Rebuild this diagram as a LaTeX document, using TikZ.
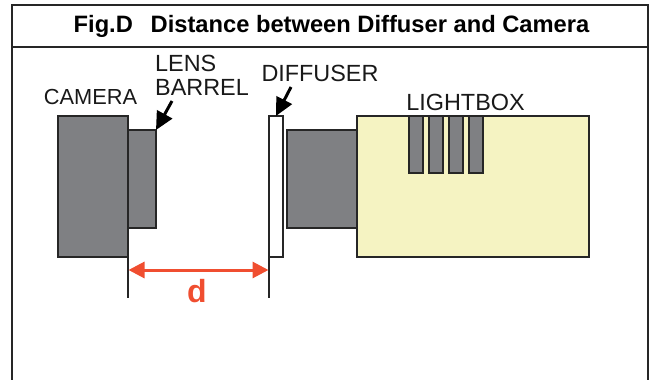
\documentclass[tikz,border=0pt]{standalone}
\usepackage{fontspec}
\setmainfont{Liberation Sans}
\usetikzlibrary{arrows.meta}
\definecolor{partgray}{HTML}{7F8083}
\definecolor{boxyellow}{HTML}{F5F3C2}
\definecolor{dimred}{HTML}{F04E30}
\tikzset{
    part/.style={draw=black!85, line width=1.6pt, fill=partgray},
    lbl/.style={inner sep=0pt, font=\fontsize{23.4}{24}\selectfont, text=black!90},
    leader/.style={-{Triangle[length=18pt,width=17pt]}, line width=3pt, black},
}
\begin{document}
\begin{tikzpicture}[x=1pt,y=-1pt]
            \useasboundingbox (0,0) rectangle (649,380);
            \coordinate (CamTL) at (58,116);
            \coordinate (CamBR) at (128,257);
            \coordinate (BarTL) at (128,130);
            \coordinate (BarBR) at (156,228);
            \coordinate (DifTL) at (269,116);
            \coordinate (DifBR) at (283,257);
            \coordinate (TubeTL) at (287,130);
            \coordinate (TubeBR) at (357,228);
            \coordinate (BoxTL) at (357,116);
            \coordinate (BoxBR) at (589,257);

            % frame
            \draw[line width=2pt, black!85] (11.5,400) -- (11.5,5) -- (648,5) -- (648,400);
            \draw[line width=2pt, black!85] (11.5,46.5) -- (648,46.5);
            \node[inner sep=0pt, font=\fontsize{23.7}{24}\selectfont\bfseries] (title) at (331.5,26.5) {Fig.D\hspace{0.75em}Distance between Diffuser and Camera};

            % parts
            \draw[part] (BarTL) rectangle (BarBR);
            \draw[part] (CamTL) rectangle (CamBR);
            \draw[line width=1.6pt, black!85, fill=boxyellow] (BoxTL) rectangle (BoxBR);
            \draw[part] (TubeTL) rectangle (TubeBR);
            \draw[line width=1.6pt, black!85, fill=white] (DifTL) rectangle (DifBR);
            \foreach \sx in {409,429,449,469}
                \draw[part] (\sx,116) rectangle (\sx+14,173);

            % labels
            \node[lbl, font=\fontsize{21.8}{24}\selectfont] (camera) at (90.5,97) {CAMERA};
            \node[lbl, align=left, anchor=north west] (lens) at (155,55) {LENS\\BARREL};
            \node[lbl] (diffuser) at (320,73.5) {DIFFUSER};
            \node[lbl] (lightbox) at (465.5,102) {LIGHTBOX};

            % pointers
            \coordinate (lensfrom) at (172,101);
            \coordinate (difffrom) at (291,87);
            \draw[leader] (lensfrom) -- (156,130);
            \draw[leader] (difffrom) -- (276,116);

            % dimension
            \coordinate (da) at (128.5,270);
            \coordinate (db) at (268.5,270);
            \draw[line width=1.4pt, black!85] (CamBR) -- (128,298);
            \draw[line width=1.4pt, black!85] (269,257) -- (269,298);
            \draw[{Triangle[length=16pt,width=16pt]}-{Triangle[length=16pt,width=16pt]}, line width=3pt, dimred] (da) -- (db);
            \node[inner sep=0pt, text=dimred, font=\fontsize{32}{32}\selectfont\bfseries] (dist) at (197,291) {d};
        \end{tikzpicture}
\end{document}
